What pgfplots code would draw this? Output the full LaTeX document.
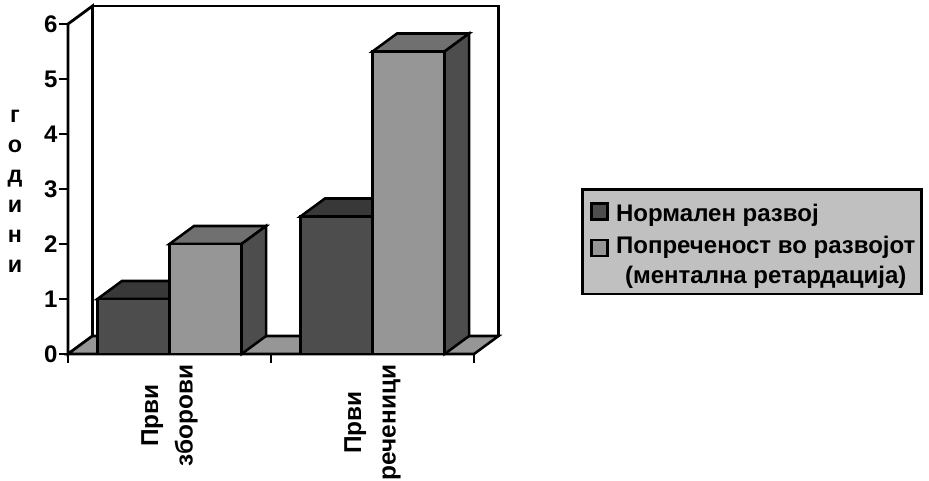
\documentclass[border=0pt]{standalone}
\usepackage{fontspec}
\setmainfont{Liberation Sans}
\usepackage{pgfplots}
\pgfplotsset{compat=1.18}

\definecolor{darkfront}{HTML}{4D4D4D}
\definecolor{darktop}{HTML}{383838}
\definecolor{lightfront}{HTML}{969696}
\definecolor{lighttop}{HTML}{707070}
\definecolor{legendgray}{HTML}{C0C0C0}

\begin{document}
\begin{tikzpicture}[x=1pt,y=1pt]
% page is 929x481 px at 0.75pt per px, axis origin at px (68,354)
\path[use as bounding box] (-51pt,-95.25pt) rectangle (645.75pt,265.5pt);
\begin{axis}[
    scale only axis,
    width=322.9pt, height=261pt,
    at={(0pt,0pt)}, anchor=south west,
    xmin=0, xmax=2.1207,
    ymin=0, ymax=6.3273,
    clip=false,
    axis line style={draw=none},
    xtick={0,1,2}, xticklabels={},
    ytick={0,1,2,3,4,5,6},
    tick align=outside,
    tick pos=left,
    major tick length=6.75pt,
    tick style={black, line width=1.9pt},
    every tick label/.append style={font=\fontsize{18}{20}\selectfont\bfseries},
    /pgf/number format/assume math mode=true,
    yticklabel style={inner sep=1pt},
    extra x ticks={0.5,1.5},
    extra x tick labels={{Први\\зборови},{Први\\реченици}},
    extra x tick style={
        major tick length=0pt,
        tick label style={rotate=90, anchor=east, align=center,
            font=\fontsize{18.3}{26}\selectfont\bfseries, inner sep=0pt, xshift=-8pt},
    },
    ylabel={г\\о\\д\\и\\н\\и},
    every axis y label/.style={at={(rel axis cs:-0.123,0.468)}, anchor=center,
        align=center, font=\fontsize{17.5}{22.5}\selectfont\bfseries},
    legend style={at={(1.1926,0.477)}, anchor=north west, fill=legendgray,
        draw=black, line width=1.9pt, inner xsep=3.5pt, inner ysep=5pt,
        font=\fontsize{18}{22.5}\selectfont\bfseries,
        row sep=8pt, column sep=4.6pt,
        nodes={align=center, inner sep=1pt}},
    legend cell align=left,
]

% walls and floor
\addplot[fill=white, draw=black, line width=1.9pt, forget plot] coordinates
    {(0.1207,0.3273) (0.1207,6.3273) (2.1207,6.3273) (2.1207,0.3273)} -- cycle;
\addplot[fill=white, draw=black, line width=2.1pt, forget plot] coordinates
    {(0,0) (0,6) (0.1207,6.3273) (0.1207,0.3273)} -- cycle;
\addplot[fill=lightfront, draw=black, line width=1.9pt, forget plot] coordinates
    {(0,0) (2,0) (2.1207,0.3273) (0.1207,0.3273)} -- cycle;

% Нормален развој: top faces, then fronts
\addplot[fill=darktop, draw=black, line width=1.9pt, forget plot] coordinates
    {(0.145,1) (0.5,1) (0.6207,1.3273) (0.2657,1.3273)} -- cycle;
\addplot[fill=darktop, draw=black, line width=1.9pt, forget plot] coordinates
    {(1.145,2.5) (1.5,2.5) (1.6207,2.8273) (1.2657,2.8273)} -- cycle;
\addplot[ybar, bar width=0.355, bar shift=-0.1775, fill=darkfront, draw=black,
    line width=1.9pt, forget plot] coordinates {(0.5,1) (1.5,2.5)};

% Попреченост во развојот: top and side faces, then fronts
\addplot[fill=lighttop, draw=black, line width=1.9pt, forget plot] coordinates
    {(0.5,2) (0.855,2) (0.9757,2.3273) (0.6207,2.3273)} -- cycle;
\addplot[fill=darkfront, draw=black, line width=1.9pt, forget plot] coordinates
    {(0.855,0) (0.855,2) (0.9757,2.3273) (0.9757,0.3273)} -- cycle;
\addplot[fill=lighttop, draw=black, line width=1.9pt, forget plot] coordinates
    {(1.5,5.5) (1.855,5.5) (1.9757,5.8273) (1.6207,5.8273)} -- cycle;
\addplot[fill=darkfront, draw=black, line width=1.9pt, forget plot] coordinates
    {(1.855,0) (1.855,5.5) (1.9757,5.8273) (1.9757,0.3273)} -- cycle;
\addplot[ybar, bar width=0.355, bar shift=0.1775, fill=lightfront, draw=black,
    line width=1.9pt, forget plot] coordinates {(0.5,2) (1.5,5.5)};

% front edge on top of the bars
\addplot[black, line width=2.1pt, forget plot] coordinates {(0,0) (2,0)};

% the empty path pushes the marker to the right inside its legend cell
\addlegendimage{legend image code/.code={
    \path[draw=none, fill=none] (-3pt,0pt) -- (0pt,0pt);
    \draw[fill=darkfront, draw=black, line width=1.9pt] (0pt,-7pt) rectangle (12pt,5pt);}}
\addlegendentry{\rule{0pt}{18pt}Нормален развој}
\addlegendimage{legend image code/.code={
    \path[draw=none, fill=none] (-3pt,0pt) -- (0pt,0pt);
    \draw[fill=lightfront, draw=black, line width=1.9pt] (0pt,4pt) rectangle (12pt,16pt);}}
\addlegendentry{Попреченост во развојот\\(ментална ретардација)\rule[-8pt]{0pt}{1pt}}
\end{axis}
\end{tikzpicture}
\end{document}
